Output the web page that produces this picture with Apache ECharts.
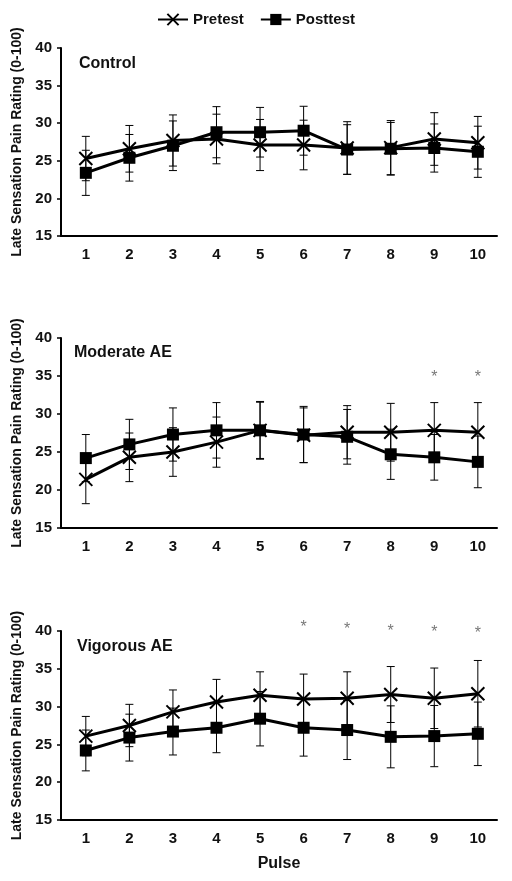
<!DOCTYPE html>
<html>
<head>
<meta charset="utf-8">
<script src="https://cdn.jsdelivr.net/npm/echarts@6/dist/echarts.min.js"></script>
<style>
html,body{margin:0;padding:0;background:#fff;}
#chart{width:512px;height:881px;}
</style>
</head>
<body>
<div id="chart"></div>
<script>
// ---- data ----
const pulses = [1, 2, 3, 4, 5, 6, 7, 8, 9, 10];
const yTickMin = 15, yTickMax = 40, yTickStep = 5;
const panelNames = ['Control', 'Moderate AE', 'Vigorous AE'];
const seriesNames = ['Pretest', 'Posttest'];
const yAxisTitle = 'Late Sensation Pain Rating (0-100)';
const xAxisTitle = 'Pulse';

const controlPre     = [25.3, 26.6, 27.7, 27.9, 27.1, 27.1, 26.7, 26.75, 27.9, 27.4];
const controlPreErr  = [2.95, 3.1, 3.4, 3.3, 3.4, 3.3, 3.5, 3.6, 3.5, 3.5];
const controlPost    = [23.4, 25.4, 27.0, 28.8, 28.8, 29.0, 26.5, 26.6, 26.7, 26.2];
const controlPostErr = [3.0, 3.1, 3.3, 3.4, 3.3, 3.25, 3.3, 3.5, 3.2, 3.4];

const moderatePre     = [21.4, 24.3, 25.0, 26.3, 27.85, 27.2, 27.6, 27.6, 27.85, 27.6];
const moderatePreErr  = [3.2, 3.2, 3.2, 3.3, 3.8, 3.6, 3.5, 3.8, 3.65, 3.9];
const moderatePost    = [24.2, 26.0, 27.3, 27.85, 27.85, 27.3, 27.0, 24.7, 24.3, 23.7];
const moderatePostErr = [3.1, 3.3, 3.5, 3.65, 3.7, 3.7, 3.6, 3.3, 3.0, 3.4];

const vigorousPre     = [26.1, 27.5, 29.3, 30.6, 31.5, 31.0, 31.1, 31.6, 31.1, 31.7];
const vigorousPreErr  = [2.6, 2.8, 2.9, 3.0, 3.1, 3.3, 3.5, 3.7, 4.0, 4.4];
const vigorousPost    = [24.2, 25.9, 26.7, 27.2, 28.4, 27.2, 26.9, 26.0, 26.1, 26.4];
const vigorousPostErr = [2.7, 3.1, 3.1, 3.3, 3.6, 3.75, 3.9, 4.1, 4.05, 4.2];

// significance markers: [pulse, height]
const moderateStars = [[9, 34.75], [10, 34.75]];
const vigorousStars = [[6, 40.45], [7, 40.2], [8, 39.9], [9, 39.8], [10, 39.6]];

// ---- chart ----
const FONT = '"Liberation Sans", Arial, sans-serif';
const grids = [
  {left: 61, width: 436, top: 48, height: 188},
  {left: 61, width: 436, top: 338, height: 190},
  {left: 61, width: 436, top: 631, height: 189}
];
const panels = [
  {pre: controlPre, preErr: controlPreErr, post: controlPost, postErr: controlPostErr, stars: []},
  {pre: moderatePre, preErr: moderatePreErr, post: moderatePost, postErr: moderatePostErr, stars: moderateStars},
  {pre: vigorousPre, preErr: vigorousPreErr, post: vigorousPost, postErr: vigorousPostErr, stars: vigorousStars}
];
const titlePos = [{left: 79, top: 56}, {left: 74, top: 345}, {left: 77, top: 639}];

function errRender(params, api) {
  const x = api.value(0), lo = api.value(1), hi = api.value(2);
  const a = api.coord([x, hi]);
  const b = api.coord([x, lo]);
  const w = 4;
  const st = {stroke: '#000', lineWidth: 1};
  return {
    type: 'group',
    children: [
      {type: 'line', shape: {x1: a[0], y1: a[1], x2: b[0], y2: b[1]}, style: st},
      {type: 'line', shape: {x1: a[0] - w, y1: a[1], x2: a[0] + w, y2: a[1]}, style: st},
      {type: 'line', shape: {x1: b[0] - w, y1: b[1], x2: b[0] + w, y2: b[1]}, style: st}
    ]
  };
}

const xAxes = [], yAxes = [], series = [], titles = [];
panels.forEach((p, i) => {
  xAxes.push({
    type: 'value', gridIndex: i, min: 0.43, max: 10.44,
    axisLine: {onZero: false, lineStyle: {color: '#000', width: 2}},
    axisTick: {show: false},
    splitLine: {show: false},
    axisLabel: {customValues: pulses, color: '#111', fontWeight: 'bold', fontSize: 15, fontFamily: FONT, margin: 11},
    name: i === 2 ? xAxisTitle : '',
    nameLocation: 'middle', nameGap: 36,
    nameTextStyle: {color: '#111', fontWeight: 'bold', fontSize: 16, fontFamily: FONT}
  });
  yAxes.push({
    type: 'value', gridIndex: i, min: yTickMin, max: yTickMax, interval: yTickStep,
    axisLine: {show: true, onZero: false, lineStyle: {color: '#000', width: 2}},
    axisTick: {show: true, length: 4, lineStyle: {color: '#000', width: 1.5}},
    splitLine: {show: false},
    axisLabel: {color: '#111', fontWeight: 'bold', fontSize: 15, fontFamily: FONT, margin: 9},
    name: yAxisTitle, nameLocation: 'middle', nameGap: 31, nameRotate: 90,
    nameTextStyle: {color: '#111', fontWeight: 'bold', fontSize: 14, fontFamily: FONT}
  });
  titles.push({
    text: panelNames[i], left: titlePos[i].left, top: titlePos[i].top, padding: 0,
    textStyle: {color: '#111', fontWeight: 'bold', fontSize: 16, fontFamily: FONT}
  });
  const errPre = pulses.map((x, k) => [x, p.pre[k] - p.preErr[k], p.pre[k] + p.preErr[k]]);
  const errPost = pulses.map((x, k) => [x, p.post[k] - p.postErr[k], p.post[k] + p.postErr[k]]);
  [errPre, errPost].forEach(d => series.push({
    type: 'custom', xAxisIndex: i, yAxisIndex: i, renderItem: errRender,
    data: d, encode: {x: 0, y: [1, 2]}, z: 1, silent: true, clip: false
  }));
  series.push({
    name: seriesNames[0], type: 'line', xAxisIndex: i, yAxisIndex: i, z: 3,
    data: pulses.map((x, k) => [x, p.pre[k]]),
    symbol: 'path://M0,0L10,10M10,0L0,10', symbolSize: 13,
    lineStyle: {color: '#000', width: 3},
    itemStyle: {color: '#000', borderColor: '#000', borderWidth: 2},
    animation: false
  });
  series.push({
    name: seriesNames[1], type: 'line', xAxisIndex: i, yAxisIndex: i, z: 4,
    data: pulses.map((x, k) => [x, p.post[k]]),
    symbol: 'rect', symbolSize: 12,
    lineStyle: {color: '#000', width: 3},
    itemStyle: {color: '#000', borderColor: '#000', borderWidth: 0},
    animation: false
  });
  if (p.stars.length) {
    series.push({
      type: 'scatter', xAxisIndex: i, yAxisIndex: i, data: p.stars, symbolSize: 0, clip: false, silent: true,
      label: {show: true, position: 'inside', formatter: '*', color: '#555', fontSize: 16, fontFamily: FONT},
      animation: false
    });
  }
});

const chart = echarts.init(document.getElementById('chart'), null, {renderer: 'canvas'});
chart.setOption({
  backgroundColor: '#fff',
  animation: false,
  title: titles,
  legend: {
    data: seriesNames, top: 7, left: 'center', itemWidth: 30, itemHeight: 14, itemGap: 16,
    textStyle: {color: '#111', fontWeight: 'bold', fontSize: 15, fontFamily: FONT}
  },
  grid: grids,
  xAxis: xAxes,
  yAxis: yAxes,
  series: series
});
</script>
</body>
</html>
